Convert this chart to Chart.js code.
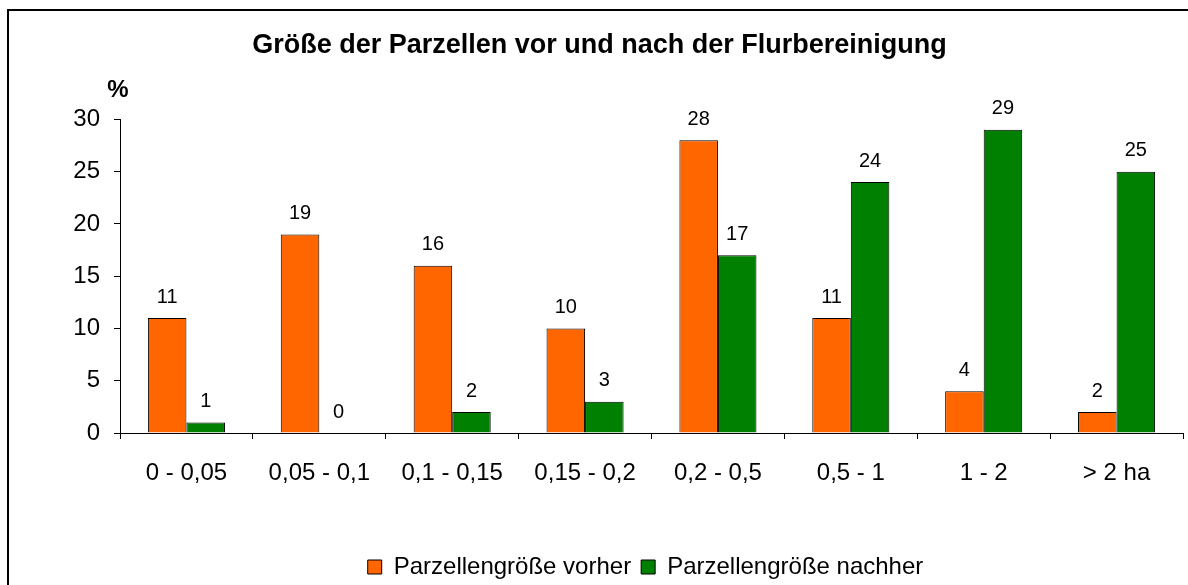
<!DOCTYPE html>
<html>
<head>
<meta charset="utf-8">
<title>Größe der Parzellen</title>
<script src="https://cdn.jsdelivr.net/npm/chart.js@4/dist/chart.umd.min.js"></script>
<style>
  html, body { margin: 0; padding: 0; background: #fff; overflow: hidden; }
  #wrap { position: relative; width: 1188px; height: 585px; }
  #frame { position: absolute; left: 7px; top: 9px; width: 1300px; height: 700px; border: 2px solid #000; box-sizing: border-box; }
  #chart { position: absolute; left: 0; top: 0; }
</style>
</head>
<body>
<div id="wrap">
  <div id="frame"></div>
  <canvas id="chart" width="1188" height="585"></canvas>
</div>
<script>
const categories = ['0 - 0,05', '0,05 - 0,1', '0,1 - 0,15', '0,15 - 0,2', '0,2 - 0,5', '0,5 - 1', '1 - 2', '> 2 ha'];
const vorher = [11, 19, 16, 10, 28, 11, 4, 2];
const nachher = [1, 0, 2, 3, 17, 24, 29, 25];
const yTicks = [0, 5, 10, 15, 20, 25, 30];

const FONT = "Arial, 'Liberation Sans', sans-serif";

// value above each bar, plus the "%" unit over the y axis
const valueLabels = {
  id: 'valueLabels',
  afterLayout(chart) {
    // title sits a little right of centre, the legend further right
    chart.titleBlock.left += 8;
    chart.titleBlock.right += 8;
    chart.legend.left += 54;
    chart.legend.right += 54;
  },
  afterDatasetsDraw(chart) {
    const ctx = chart.ctx;
    ctx.save();
    ctx.fillStyle = '#000';
    ctx.font = '20px ' + FONT;
    ctx.textAlign = 'center';
    ctx.textBaseline = 'middle';
    chart.data.datasets.forEach((ds, i) => {
      chart.getDatasetMeta(i).data.forEach((bar, j) => {
        ctx.fillText(String(ds.data[j]), bar.x, bar.y - 21);
      });
    });
    ctx.font = 'bold 24px ' + FONT;
    ctx.fillText('%', chart.chartArea.left - 2, chart.chartArea.top - 29);
    ctx.restore();
  }
};

new Chart(document.getElementById('chart'), {
  type: 'bar',
  data: {
    labels: categories,
    datasets: [{
      label: 'Parzellengröße vorher',
      data: vorher,
      backgroundColor: '#FF6600',
      borderColor: '#000',
      borderWidth: 1
    }, {
      label: 'Parzellengröße nachher',
      data: nachher,
      backgroundColor: '#008000',
      borderColor: '#000',
      borderWidth: 1
    }]
  },
  options: {
    responsive: false,
    animation: false,
    layout: { padding: { left: 0, right: 5, top: 0, bottom: -4 } },
    datasets: {
      bar: { categoryPercentage: 0.58, barPercentage: 1.0 }
    },
    plugins: {
      title: {
        display: true,
        text: 'Größe der Parzellen vor und nach der Flurbereinigung',
        color: '#000',
        font: { family: FONT, size: 27, weight: 'bold', lineHeight: 1.2 },
        padding: { top: 29, bottom: 58 }
      },
      legend: {
        position: 'bottom',
        labels: {
          color: '#000',
          font: { family: FONT, size: 24, lineHeight: 1 },
          boxWidth: 14,
          boxHeight: 14,
          padding: 10
        }
      },
      tooltip: { enabled: false }
    },
    scales: {
      x: {
        grid: { display: true, drawOnChartArea: false, offset: true, color: '#000', tickLength: 6 },
        border: { color: '#000', width: 1 },
        ticks: { color: '#000', font: { family: FONT, size: 24 }, padding: 20, maxRotation: 0, autoSkip: false },
        afterFit(scale) { scale.height = 112; }
      },
      y: {
        min: 0,
        max: 30,
        afterBuildTicks(scale) { scale.ticks = yTicks.map(v => ({ value: v })); },
        grid: { display: true, drawOnChartArea: false, color: '#000', tickLength: 6 },
        border: { color: '#000', width: 1 },
        ticks: { color: '#000', font: { family: FONT, size: 24 }, padding: 14 },
        afterFit(scale) { scale.width = 120; }
      }
    }
  },
  plugins: [valueLabels]
});
</script>
</body>
</html>
